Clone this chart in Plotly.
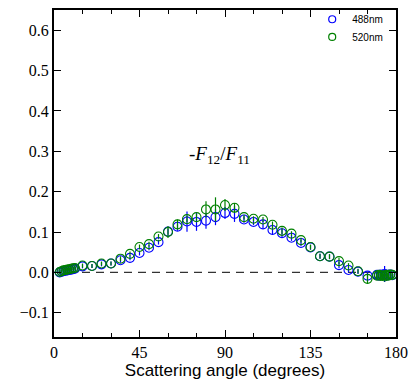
import plotly.graph_objects as go

# Scattering angles (degrees)
angle_488 = [3, 4, 5, 6, 7, 8, 9, 10, 11,
             15, 20, 25, 30, 35, 40, 45, 50, 55, 60, 65, 70, 75, 80, 85, 90,
             95, 100, 105, 110, 115, 120, 125, 130, 135, 140, 145, 150, 155,
             160, 165, 170, 171, 172, 173, 174, 175, 176, 177, 178]
ratio_488 = [0.000, 0.002, 0.003, 0.004, 0.005, 0.006, 0.007, 0.008, 0.009,
             0.015, 0.016, 0.020, 0.022, 0.030, 0.036, 0.048, 0.061, 0.075,
             0.101, 0.113, 0.126, 0.125, 0.128, 0.137, 0.147,
             0.145, 0.131, 0.125, 0.119, 0.105, 0.097, 0.086, 0.073, 0.062,
             0.040, 0.039, 0.018, 0.006, 0.002, -0.008,
             -0.006, -0.008, -0.005, -0.007, -0.004, -0.008, -0.006, -0.005, -0.007]
err_488 = [0.004, 0.004, 0.004, 0.004, 0.004, 0.004, 0.004, 0.004, 0.004,
           0.005, 0.005, 0.005, 0.005, 0.006, 0.006, 0.006, 0.006, 0.006,
           0.008, 0.010, 0.025, 0.022, 0.020, 0.020, 0.015,
           0.020, 0.008, 0.008, 0.010, 0.012, 0.012, 0.008, 0.008, 0.006,
           0.006, 0.006, 0.008, 0.006, 0.006, 0.008,
           0.006, 0.006, 0.008, 0.010, 0.020, 0.008, 0.006, 0.006, 0.006]

angle_520 = [3, 4, 5, 6, 7, 8, 9, 10, 11,
             15, 20, 25, 30, 35, 40, 45, 50, 55, 60, 65, 70, 75, 80, 85, 90,
             95, 100, 105, 110, 115, 120, 125, 130, 135, 140, 145, 150, 155,
             160, 165, 170, 171, 172, 173, 174, 175, 176, 177, 178]
ratio_520 = [0.001, 0.003, 0.005, 0.006, 0.007, 0.008, 0.009, 0.010, 0.011,
             0.017, 0.016, 0.022, 0.022, 0.034, 0.046, 0.063, 0.070, 0.089,
             0.100, 0.119, 0.132, 0.137, 0.156, 0.156, 0.167,
             0.160, 0.137, 0.133, 0.131, 0.118, 0.103, 0.096, 0.080, 0.063,
             0.040, 0.039, 0.028, 0.017, 0.003, -0.016,
             -0.008, -0.006, -0.009, -0.007, -0.010, -0.006, -0.008, -0.005, -0.006]
err_520 = [0.004, 0.004, 0.004, 0.004, 0.004, 0.004, 0.004, 0.004, 0.004,
           0.005, 0.005, 0.005, 0.005, 0.006, 0.006, 0.006, 0.006, 0.006,
           0.015, 0.012, 0.008, 0.008, 0.020, 0.030, 0.015,
           0.012, 0.006, 0.006, 0.006, 0.008, 0.008, 0.006, 0.006, 0.006,
           0.006, 0.006, 0.008, 0.006, 0.006, 0.012,
           0.008, 0.008, 0.008, 0.010, 0.010, 0.008, 0.008, 0.008, 0.008]

x_ticks = [0, 45, 90, 135, 180]
x_tick_text = ["0", "45", "90", "135", "180"]
y_ticks = [-0.1, 0.0, 0.1, 0.2, 0.3, 0.4, 0.5, 0.6]
y_tick_text = ["\u22120.1", "0.0", "0.1", "0.2", "0.3", "0.4", "0.5", "0.6"]

BLUE = "#0000ff"
GREEN = "#008000"
SERIF = "Liberation Serif"
SANS = "Liberation Sans"

fig = go.Figure()

series = [("488nm", angle_488, ratio_488, err_488, BLUE, "legend"),
          ("520nm", angle_520, ratio_520, err_520, GREEN, "legend2")]
for name, xs, ys, es, col, leg in series:
    fig.add_trace(go.Scatter(
        x=xs, y=ys, name=name, mode="markers", showlegend=False,
        marker=dict(symbol="circle-open", size=9, color=col, line=dict(width=1.1, color=col)),
        error_y=dict(type="data", array=es, visible=True, color=col, thickness=1.2, width=0),
    ))
    # smaller key glyph for the legend
    fig.add_trace(go.Scatter(
        x=[None], y=[None], name=name, mode="markers", showlegend=True, legend=leg,
        marker=dict(symbol="circle-open", size=7, color=col, line=dict(width=1.2, color=col)),
    ))

# zero reference line
fig.add_shape(type="line", xref="x", yref="y", x0=0, x1=180, y0=0, y1=0,
              line=dict(color="#333333", width=1.3, dash="8px,6px"), layer="below")

fig.add_annotation(x=87, y=0.292, xref="x", yref="y", showarrow=False,
                   text="-<i>F</i><sub>12</sub>/<i>F</i><sub>11</sub>",
                   font=dict(family=SERIF, size=19, color="black"))

fig.update_xaxes(
    range=[0, 180], tickmode="array", tickvals=x_ticks, ticktext=x_tick_text,
    ticks="inside", ticklen=7, tickwidth=1,
    tickcolor="black", showline=True, linecolor="black", linewidth=2, mirror="ticks",
    showgrid=False, zeroline=False,
    tickfont=dict(family=SERIF, size=16, color="black"),
    minor=dict(tickmode="linear", dtick=15, tick0=0, ticks="inside", ticklen=4,
               tickcolor="black", showgrid=False),
    title=dict(text="Scattering angle (degrees)", font=dict(family=SANS, size=17, color="black"), standoff=2),
)
fig.update_yaxes(
    range=[-0.16, 0.65], tickmode="array", tickvals=y_ticks, ticktext=y_tick_text,
    ticks="inside", ticklen=7,
    tickwidth=1, tickcolor="black", showline=True, linecolor="black", linewidth=2,
    mirror="ticks", showgrid=False, zeroline=False,
    tickfont=dict(family=SERIF, size=16, color="black"),
)

legend_style = dict(xanchor="left", yanchor="top", bgcolor="rgba(0,0,0,0)",
                    font=dict(family=SANS, size=10, color="black"), itemwidth=30)

fig.update_layout(
    width=413, height=380,
    margin=dict(l=54, r=16, t=5, b=40),
    font=dict(family=SERIF, size=16, color="black"),
    plot_bgcolor="white", paper_bgcolor="white",
    showlegend=True,
    legend=dict(x=0.755, y=1.016, **legend_style),
    legend2=dict(x=0.755, y=0.962, **legend_style),
)

fig.write_html("out.html")
